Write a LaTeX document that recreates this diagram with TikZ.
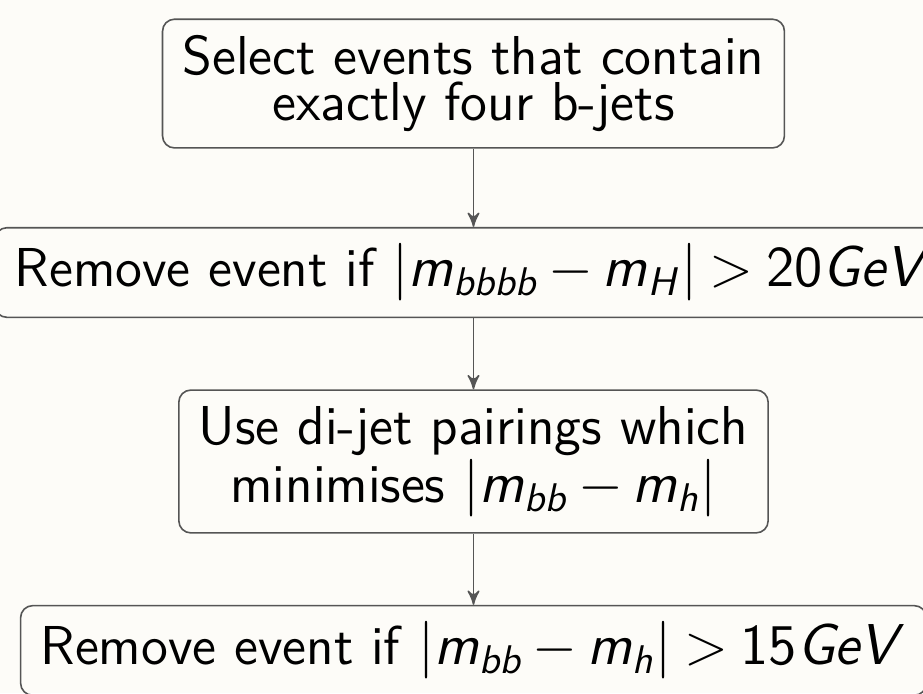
\documentclass[tikz,border=0pt]{standalone}
\usetikzlibrary{arrows}
\usetikzlibrary{positioning}

\SetSymbolFont{operators}{normal}{OT1}{cmss}{m}{n}
\SetSymbolFont{letters}{normal}{OT1}{cmss}{m}{sl}
\DeclareSymbolFont{relletters}{OML}{cmm}{m}{it}
\DeclareMathSymbol{>}{\mathrel}{relletters}{"3E}
\medmuskip=3mu plus 2mu minus 4mu
\thickmuskip=4mu plus 5mu

\definecolor{paper}{RGB}{253,252,248}
\definecolor{edge}{RGB}{85,85,85}
\tikzset{stage/.style={draw=edge, rounded corners=3pt, align=center, inner xsep=5pt, inner ysep=4pt, font=\fontsize{13.7}{11.6}\selectfont\sffamily}}

\begin{document}
\begin{tikzpicture}[node distance=47.25pt, >=stealth']
    \useasboundingbox [fill=paper] (-118.4pt,20.9pt) rectangle (112.4pt,-152.4pt);

    \node [stage] (select) {Select events that contain\\exactly four b-jets};
    \node [stage, below of=select] (window) {Remove event if $\left|m_{bbbb}-m_H\right| > 20 GeV$};
    \node [stage, below of=window] (pairing) {Use di-jet pairings which\\minimises $\left|m_{bb}-m_h\right|$};
    \node [stage, below of=pairing] (masscut) {Remove event if $\left|m_{bb}-m_h\right| > 15 GeV$};

    \draw [->, draw=edge] (select) -- (window);
    \draw [->, draw=edge] (window) -- (pairing);
    \draw [->, draw=edge] (pairing) -- (masscut);

\end{tikzpicture}
\end{document}
